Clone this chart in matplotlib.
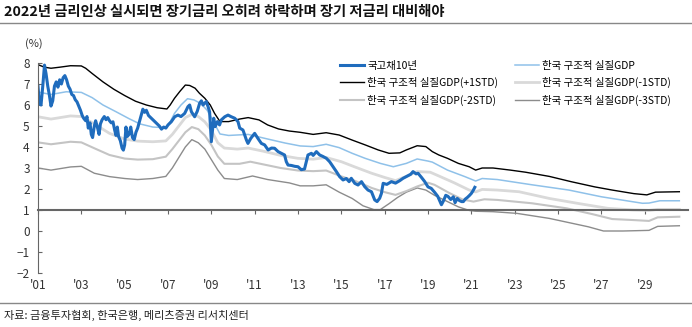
import numpy as np
import matplotlib.pyplot as plt

plt.rcParams['font.family'] = ['Noto Sans CJK KR', 'DejaVu Sans']

# 국고채 10년
bond_year = [2001.00, 2001.06, 2001.14, 2001.22, 2001.30, 2001.37, 2001.45, 2001.52, 2001.60, 2001.68,
             2001.76, 2001.84, 2001.92, 2002.00, 2002.08, 2002.16, 2002.24, 2002.32, 2002.40, 2002.48,
             2002.56, 2002.64, 2002.72, 2002.80, 2002.88, 2002.96, 2003.04, 2003.12, 2003.20, 2003.26,
             2003.32, 2003.40, 2003.46, 2003.52, 2003.60, 2003.66, 2003.74, 2003.82, 2003.88, 2003.96,
             2004.06, 2004.14, 2004.22, 2004.30, 2004.38, 2004.46, 2004.54, 2004.60, 2004.66, 2004.72,
             2004.80, 2004.88, 2004.94, 2005.00, 2005.06, 2005.12, 2005.20, 2005.28, 2005.36, 2005.44,
             2005.52, 2005.60, 2005.68, 2005.76, 2005.84, 2005.92, 2006.00, 2006.10, 2006.20, 2006.30,
             2006.40, 2006.50, 2006.60, 2006.70, 2006.80, 2006.90, 2007.00, 2007.15, 2007.31, 2007.46,
             2007.60, 2007.77, 2007.92, 2008.00, 2008.08, 2008.23, 2008.35, 2008.46, 2008.54, 2008.62,
             2008.70, 2008.77, 2008.85, 2008.92, 2009.00, 2009.05, 2009.11, 2009.18, 2009.28, 2009.38,
             2009.46, 2009.62, 2009.77, 2009.92, 2010.08, 2010.23, 2010.31, 2010.46, 2010.62, 2010.69,
             2010.82, 2011.00, 2011.15, 2011.31, 2011.46, 2011.62, 2011.78, 2011.92, 2012.08, 2012.23,
             2012.38, 2012.46, 2012.54, 2012.70, 2012.85, 2013.00, 2013.15, 2013.30, 2013.46, 2013.62,
             2013.70, 2013.85, 2014.00, 2014.15, 2014.31, 2014.46, 2014.62, 2014.77, 2014.92, 2015.08,
             2015.23, 2015.36, 2015.46, 2015.62, 2015.77, 2015.93, 2016.08, 2016.23, 2016.39, 2016.54,
             2016.65, 2016.77, 2016.85, 2016.93, 2017.10, 2017.31, 2017.50, 2017.70, 2017.85, 2018.05,
             2018.20, 2018.31, 2018.45, 2018.54, 2018.70, 2018.85, 2019.00, 2019.15, 2019.30, 2019.45,
             2019.62, 2019.72, 2019.82, 2019.92, 2020.05, 2020.17, 2020.25, 2020.35, 2020.45, 2020.55,
             2020.63, 2020.72, 2020.82, 2020.92, 2021.00, 2021.08, 2021.16]
bond_yield = [6.90, 6.10, 6.00, 6.90, 7.90, 7.50, 6.90, 6.50, 5.95, 6.20,
              6.90, 7.10, 6.85, 7.20, 7.00, 7.30, 7.40, 7.20, 6.90, 6.75,
              6.50, 6.45, 6.25, 6.15, 5.95, 5.75, 5.50, 5.35, 5.25, 5.45,
              4.90, 5.15, 4.60, 4.45, 5.00, 5.25, 4.95, 4.60, 5.10, 5.30,
              5.45, 5.30, 5.40, 5.25, 5.15, 5.20, 4.80, 4.55, 4.95, 4.50,
              4.30, 3.95, 3.85, 4.10, 4.95, 4.50, 4.60, 4.95, 4.45, 4.35,
              4.70, 4.90, 5.20, 5.50, 5.80, 5.65, 5.75, 5.50, 5.40, 5.30,
              5.20, 5.10, 5.00, 4.85, 4.95, 4.90, 5.05, 5.20, 5.44, 5.52,
              5.45, 5.60, 5.92, 6.00, 5.68, 5.44, 5.70, 6.08, 6.20, 6.00,
              6.10, 6.16, 5.92, 5.68, 4.25, 4.75, 5.37, 4.97, 5.21, 5.05,
              5.29, 5.44, 5.52, 5.44, 5.37, 5.21, 4.90, 4.81, 4.33, 4.17,
              4.41, 4.65, 4.41, 4.17, 4.10, 3.86, 3.95, 3.94, 3.78, 3.70,
              3.62, 3.30, 3.14, 3.12, 3.08, 3.06, 2.92, 2.95, 3.62, 3.70,
              3.60, 3.78, 3.62, 3.55, 3.46, 3.30, 3.06, 2.83, 2.59, 2.43,
              2.50, 2.35, 2.51, 2.27, 2.19, 2.35, 2.11, 1.95, 1.87, 1.48,
              1.40, 1.56, 1.79, 2.27, 2.22, 2.35, 2.28, 2.40, 2.51, 2.62,
              2.70, 2.83, 2.72, 2.75, 2.55, 2.35, 2.10, 2.03, 1.85, 1.65,
              1.25, 1.45, 1.70, 1.65, 1.50, 1.63, 1.35, 1.55, 1.45, 1.40,
              1.40, 1.52, 1.60, 1.70, 1.79, 1.92, 2.08]

# 한국 구조적 실질GDP 및 표준편차 밴드
p1_year = [2001.0, 2001.3, 2001.6, 2002.0, 2002.5, 2003.0, 2003.2, 2003.5, 2004.0, 2004.5,
           2005.0, 2005.5, 2006.0, 2006.5, 2006.95, 2007.1, 2007.3, 2007.55, 2007.8, 2008.0,
           2008.25, 2008.45, 2008.7, 2008.95, 2009.15, 2009.4, 2009.8, 2010.3, 2010.7, 2011.2,
           2011.6, 2012.1, 2012.6, 2013.1, 2013.7, 2014.3, 2014.9, 2015.5, 2016.1, 2016.7,
           2017.2, 2017.7, 2018.0, 2018.5, 2018.9, 2019.2, 2019.5, 2019.9, 2020.4, 2020.9,
           2021.2, 2021.5, 2022.0, 2022.8, 2023.5, 2024.6, 2025.6, 2026.7, 2027.5, 2028.5,
           2029.1, 2029.5, 2030.6]
p1_val = [7.92, 7.80, 7.75, 7.80, 7.87, 7.86, 7.75, 7.50, 7.10, 6.75,
          6.45, 6.18, 6.00, 5.87, 5.81, 6.00, 6.32, 6.65, 6.95, 6.93,
          6.80, 6.56, 6.32, 6.00, 5.60, 5.21, 5.21, 5.33, 5.40, 5.29,
          5.05, 4.86, 4.76, 4.70, 4.60, 4.68, 4.57, 4.33, 4.10, 3.86,
          3.70, 3.72, 3.86, 4.06, 4.02, 3.78, 3.62, 3.46, 3.22, 3.06,
          2.90, 3.00, 3.00, 2.90, 2.80, 2.60, 2.35, 2.10, 1.95, 1.78,
          1.72, 1.85, 1.87]

gdp_year = [2001.0, 2001.6, 2002.3, 2003.0, 2003.5, 2004.0, 2004.6, 2005.2, 2005.7, 2006.3,
            2006.9, 2007.1, 2007.3, 2007.6, 2007.9, 2008.2, 2008.5, 2008.8, 2009.1, 2009.4,
            2009.8, 2010.7, 2011.6, 2012.4, 2013.1, 2013.7, 2014.3, 2014.9, 2015.5, 2016.1,
            2016.8, 2017.4, 2018.0, 2018.5, 2019.0, 2019.2, 2019.9, 2020.7, 2021.2, 2021.5,
            2022.2, 2023.8, 2025.5, 2027.0, 2028.9, 2029.2, 2029.7, 2030.6]
gdp_val = [6.62, 6.50, 6.63, 6.60, 6.35, 6.00, 5.68, 5.35, 5.10, 4.95,
           4.92, 5.20, 5.60, 6.00, 6.30, 6.24, 6.08, 5.76, 5.20, 4.62,
           4.55, 4.60, 4.38, 4.19, 4.05, 4.02, 4.13, 3.97, 3.70, 3.46,
           3.22, 3.06, 3.22, 3.43, 3.33, 3.28, 2.90, 2.59, 2.38, 2.50,
           2.45, 2.20, 1.95, 1.63, 1.32, 1.33, 1.44, 1.44]

m1_year = [2001.0, 2001.6, 2002.5, 2003.0, 2003.6, 2004.3, 2005.0, 2005.6, 2006.3, 2006.9,
           2007.2, 2007.5, 2007.8, 2008.1, 2008.4, 2008.7, 2009.0, 2009.3, 2009.6, 2010.2,
           2010.7, 2011.4, 2012.2, 2013.0, 2013.7, 2014.3, 2015.0, 2015.6, 2016.4, 2017.0,
           2017.5, 2018.0, 2018.5, 2019.1, 2019.5, 2020.2, 2020.9, 2021.2, 2021.5, 2022.2,
           2023.2, 2024.6, 2026.0, 2027.3, 2028.5, 2029.2, 2029.6, 2030.6]
m1_val = [5.44, 5.33, 5.48, 5.45, 5.10, 4.65, 4.38, 4.28, 4.25, 4.29,
          4.60, 5.00, 5.40, 5.55, 5.45, 5.20, 4.80, 4.20, 3.95, 3.90,
          3.95, 3.80, 3.60, 3.46, 3.42, 3.50, 3.30, 3.06, 2.75, 2.55,
          2.40, 2.60, 2.83, 2.80, 2.62, 2.30, 1.95, 1.86, 1.98, 1.95,
          1.87, 1.55, 1.30, 1.08, 1.00, 0.98, 1.03, 1.03]

m2_year = [2001.0, 2001.6, 2002.5, 2003.0, 2003.6, 2004.3, 2005.0, 2005.6, 2006.3, 2006.9,
           2007.2, 2007.5, 2007.8, 2008.1, 2008.4, 2008.7, 2009.0, 2009.3, 2009.6, 2010.3,
           2010.8, 2011.5, 2012.2, 2013.0, 2013.7, 2014.3, 2015.0, 2015.6, 2016.4, 2017.0,
           2017.5, 2018.0, 2018.5, 2019.0, 2019.3, 2020.0, 2020.6, 2021.1, 2021.6, 2022.2,
           2023.8, 2025.4, 2026.6, 2027.5, 2028.5, 2029.2, 2029.6, 2030.6]
m2_val = [4.22, 4.13, 4.25, 4.22, 3.94, 3.62, 3.45, 3.40, 3.42, 3.54,
          3.90, 4.30, 4.70, 4.95, 4.85, 4.55, 4.10, 3.55, 3.20, 3.20,
          3.30, 3.15, 3.00, 2.88, 2.85, 2.88, 2.60, 2.40, 2.05, 1.85,
          1.72, 1.90, 2.12, 2.30, 2.20, 1.80, 1.50, 1.40, 1.51, 1.48,
          1.32, 1.08, 0.80, 0.57, 0.52, 0.48, 0.65, 0.68]

m3_year = [2001.0, 2001.6, 2002.5, 2003.0, 2003.6, 2004.3, 2005.0, 2005.6, 2006.3, 2006.9,
           2007.2, 2007.5, 2007.8, 2008.1, 2008.4, 2008.7, 2009.0, 2009.3, 2009.6, 2010.2,
           2010.9, 2011.6, 2012.6, 2013.1, 2013.7, 2014.3, 2014.9, 2015.5, 2016.0, 2016.5,
           2016.8, 2017.2, 2017.6, 2018.0, 2018.5, 2018.9, 2019.3, 2019.9, 2020.4, 2020.9,
           2021.2, 2022.0, 2023.1, 2024.6, 2026.4, 2027.1, 2028.0, 2029.2, 2029.6, 2030.6]
m3_val = [3.00, 2.90, 3.05, 3.08, 2.75, 2.59, 2.50, 2.45, 2.50, 2.60,
          3.00, 3.50, 4.00, 4.35, 4.20, 3.90, 3.40, 2.90, 2.50, 2.45,
          2.62, 2.45, 2.29, 2.15, 2.15, 2.20, 1.85, 1.55, 1.20, 1.02,
          1.02, 1.30, 1.60, 1.85, 2.05, 1.95, 1.70, 1.40, 1.15, 0.98,
          0.94, 0.92, 0.84, 0.60, 0.20, 0.00, 0.00, 0.03, 0.22, 0.25]

tick_years = list(range(2001, 2031, 2))
tick_labels = ["'%02d" % (y % 100) for y in tick_years]

fig = plt.figure(figsize=(6.92, 3.27), dpi=100)
ax = fig.add_axes([38 / 692, 1 - 273 / 327, 650 / 692, 210 / 327])

ax.plot(m3_year, m3_val, color='#8c8c8c', lw=1.0, label='한국 구조적 실질GDP(-3STD)')
ax.plot(m2_year, m2_val, color='#c4c4c4', lw=1.5, label='한국 구조적 실질GDP(-2STD)')
ax.plot(m1_year, m1_val, color='#d9d9d9', lw=2.0, label='한국 구조적 실질GDP(-1STD)')
ax.plot(gdp_year, gdp_val, color='#8fc1e9', lw=1.1, label='한국 구조적 실질GDP')
ax.plot(p1_year, p1_val, color='black', lw=1.0, label='한국 구조적 실질GDP(+1STD)')
ax.plot(bond_year, bond_yield, color='#1f6cbd', lw=2.2, label='국고채10년')

ax.set_xlim(2001, 2031)
ax.set_ylim(-2, 8)
ax.set_yticks(range(-2, 9))
ax.set_xticks(tick_years)
ax.set_xticklabels(tick_labels)

for s in ['top', 'right']:
    ax.spines[s].set_visible(False)
ax.spines['left'].set_color('#666666')
ax.spines['bottom'].set_position(('data', 1))
ax.spines['bottom'].set_color('#666666')
ax.spines['bottom'].set_linewidth(1.5)
ax.tick_params(axis='x', direction='out', length=3, color='#666666', pad=47,
               labelsize=8.5, labelcolor='#333333')
ax.tick_params(axis='y', direction='in', length=3, color='#666666', pad=6,
               labelsize=8.5, labelcolor='#333333')

# legend: column-wise fill
h, l = ax.get_legend_handles_labels()
order = [5, 4, 1, 3, 2, 0]
ax.legend([h[i] for i in order], [l[i] for i in order], ncol=2, frameon=False,
          loc='upper left', bbox_to_anchor=((336 - 38) / 650, 1.03),
          fontsize=7.5, handlelength=2.3, handletextpad=0.3, labelspacing=0.6,
          columnspacing=1.6, borderaxespad=0)

fig.text(25 / 692, 1 - 44 / 327, '(%)', fontsize=8, color='#333333', va='center')
fig.text(4 / 692, 1 - 12 / 327, '2022년 금리인상 실시되면 장기금리 오히려 하락하며 장기 저금리 대비해야',
         fontsize=10.3, fontweight='bold', color='#111111', va='center')
fig.add_artist(plt.Line2D([0, 1], [1 - 23 / 327, 1 - 23 / 327], color='#888888', lw=1.0))
fig.add_artist(plt.Line2D([0, 1], [1 - 303 / 327, 1 - 303 / 327], color='#888888', lw=1.0))
fig.text(4 / 692, 1 - 315 / 327, '자료: 금융투자협회, 한국은행, 메리츠증권 리서치센터',
         fontsize=8, color='#222222', va='center')

fig.savefig('out.png', dpi=100)
